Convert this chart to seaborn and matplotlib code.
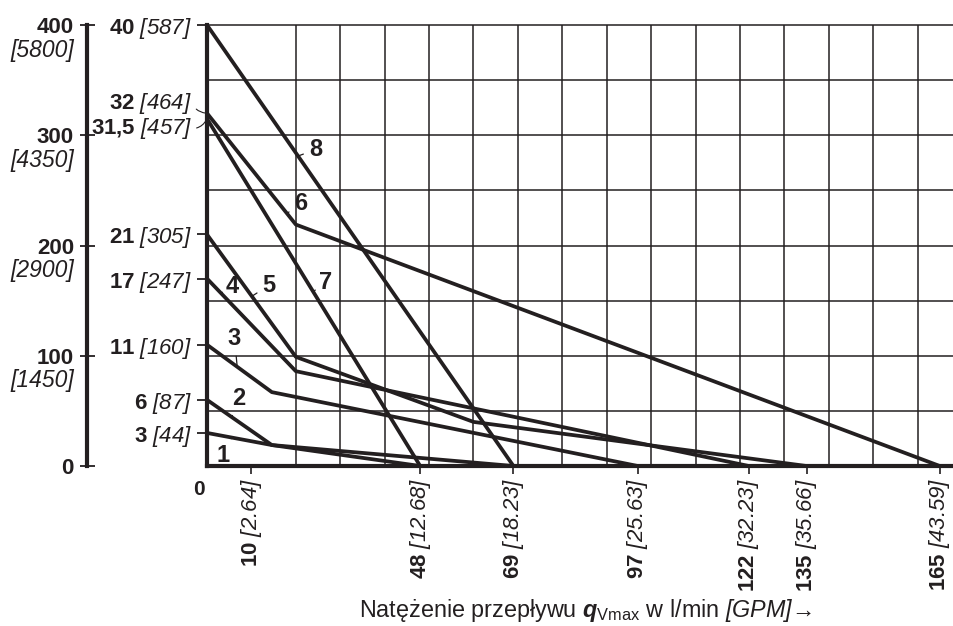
import matplotlib
matplotlib.use("Agg")
import matplotlib.pyplot as plt
import seaborn as sns
import numpy as np
import pandas as pd
from matplotlib.ticker import MultipleLocator
from matplotlib import font_manager

# ---------------- data ----------------
curve_ids = ["1", "2", "3", "4", "5", "6", "7", "8"]
flow_1 = [0, 14.6, 48];      pres_1 = [30, 19, 0]
flow_2 = [0, 14.6, 69];      pres_2 = [60, 19, 0]
flow_3 = [0, 14.6, 97];      pres_3 = [110, 67, 0]
flow_4 = [0, 20, 122];       pres_4 = [170, 86, 0]
flow_5 = [0, 20, 60, 135];   pres_5 = [210, 99, 40, 0]
flow_6 = [0, 20, 165];       pres_6 = [320, 219, 0]
flow_7 = [0, 48];            pres_7 = [315, 0]
flow_8 = [0, 69];            pres_8 = [400, 0]

x_ticks = [10, 48, 69, 97, 122, 135, 165]
x_gpm = ["2.64", "12.68", "18.23", "25.63", "32.23", "35.66", "43.59"]
y_ticks = [30, 60, 110, 170, 210, 400]
y_mpa = ["3", "6", "11", "17", "21", "40"]
y_psi = ["44", "87", "160", "247", "305", "587"]
y_extra_mpa = ["32", "31{,}5"]
y_extra_psi = ["464", "457"]
y_extra_val = [320, 315]
outer_ticks = [0, 100, 200, 300, 400]
outer_psi = ["", "1450", "2900", "4350", "5800"]

# curve label placement: (curve, x on curve, text x, text y)
curve_labels = [("8", 20.5, 24.5, 287), ("6", 18.0, 21.2, 238), ("7", 23.9, 26.6, 166),
                ("4", 3.15, 5.7, 162.6), ("5", 10.1, 14.0, 164), ("3", 6.8, 6.2, 115.5),
                ("2", 5.6, 7.2, 61.6), ("1", 5.6, 3.6, 9.1)]

flows = [flow_1, flow_2, flow_3, flow_4, flow_5, flow_6, flow_7, flow_8]
press = [pres_1, pres_2, pres_3, pres_4, pres_5, pres_6, pres_7, pres_8]
rows = []
for cid, f, p in zip(curve_ids, flows, press):
    for fi, pi in zip(f, p):
        rows.append({"curve": cid, "flow": fi, "pressure": pi})
df = pd.DataFrame(rows)

# ---------------- style ----------------
sns.set_theme(style="white")
plt.rcParams["font.family"] = ["Liberation Sans", "DejaVu Sans"]
plt.rcParams["mathtext.fontset"] = "custom"
plt.rcParams["mathtext.rm"] = "Liberation Sans:italic"
plt.rcParams["mathtext.it"] = "Liberation Sans:italic"
plt.rcParams["mathtext.bf"] = "Liberation Sans:bold"
plt.rcParams["mathtext.sf"] = "Liberation Sans"
plt.rcParams["mathtext.bfit"] = "Liberation Sans:italic:bold"

names = {f.name for f in font_manager.fontManager.ttflist}
narrow = "Liberation Sans Narrow" if "Liberation Sans Narrow" in names else "Liberation Sans"

INK = "#231f20"
W, H = 954, 626


def fx(px):
    return px / W


def fy(py):
    return 1 - py / H


fig = plt.figure(figsize=(W / 100, H / 100), dpi=100)
ax = fig.add_axes([fx(207), fy(466), fx(954) - fx(207), fy(25) - fy(466)])
ax.set_facecolor("white")

sns.lineplot(data=df, x="flow", y="pressure", units="curve", estimator=None, sort=False,
             color=INK, linewidth=2.7, ax=ax, legend=False)

ax.set_xlim(0, 168.2)
ax.set_ylim(0, 400)
ax.set_xlabel("")
ax.set_ylabel("")

ax.xaxis.set_minor_locator(MultipleLocator(10))
ax.yaxis.set_minor_locator(MultipleLocator(50))
ax.grid(False, which="major")
ax.grid(True, which="minor", color=INK, linewidth=1.1)
ax.set_axisbelow(True)

for s in ["left", "bottom"]:
    ax.spines[s].set_linewidth(3.0)
    ax.spines[s].set_color(INK)
ax.spines["top"].set_linewidth(1.1)
ax.spines["top"].set_color(INK)
ax.spines["right"].set_visible(False)

ax.set_xticks(x_ticks, [rf"$\mathbf{{{t}}}$ $\mathit{{[{g}]}}$" for t, g in zip(x_ticks, x_gpm)],
              rotation=90, fontsize=16)
ax.set_yticks(y_ticks, [rf"$\mathbf{{{m}}}$ $\mathit{{[{p}]}}$" for m, p in zip(y_mpa, y_psi)],
              fontsize=16)
ax.tick_params(axis="x", which="major", direction="out", length=5.5, width=1.2,
               color=INK, pad=3, bottom=True, labelcolor=INK)
ax.tick_params(axis="y", which="major", direction="out", length=7.2, width=1.3,
               color=INK, pad=3.4, left=True, labelcolor=INK)
ax.tick_params(which="minor", length=0)

# 32 / 31,5 labels with leaders
for m, p, v, dy in zip(y_extra_mpa, y_extra_psi, y_extra_val, [10, -10]):
    ax.annotate(rf"$\mathbf{{{m}}}$ $\mathit{{[{p}]}}$", xy=(0, v), xycoords=("axes fraction", "data"),
                xytext=(-15, dy), textcoords="offset pixels", ha="right", va="center",
                fontsize=16, color=INK,
                arrowprops=dict(arrowstyle="-", color=INK, lw=0.8, shrinkA=1, shrinkB=1,
                                relpos=(1, 0.5), connectionstyle="arc3,rad=0.3"))

# x origin label
ax.annotate("0", xy=(0, 0), xytext=(-8, -14), textcoords="offset pixels", ha="center",
            va="top", fontsize=15, fontweight="bold", color=INK)

# curve labels
for cid, xc, tx, ty in curve_labels:
    i = curve_ids.index(cid)
    yc = np.interp(xc, flows[i], press[i])
    ax.annotate(cid, xy=(xc, yc), xytext=(tx, ty), ha="center", va="center",
                fontsize=17, fontweight="bold", family=narrow, color=INK,
                arrowprops=dict(arrowstyle="-", color=INK, lw=0.9, shrinkA=2, shrinkB=0))

# outer bar axis
ax2 = fig.add_axes([fx(87), fy(466), 0.0005, fy(25) - fy(466)])
ax2.patch.set_visible(False)
ax2.set_ylim(0, 400)
ax2.set_xlim(0, 1)
for s in ["top", "right", "bottom"]:
    ax2.spines[s].set_visible(False)
ax2.spines["left"].set_linewidth(3.0)
ax2.spines["left"].set_color(INK)
ax2.set_xticks([])
ax2.set_yticks(outer_ticks, [str(t) for t in outer_ticks], fontsize=16, fontweight="bold")
ax2.tick_params(axis="y", direction="inout", length=10.8, width=1.3, color=INK, pad=4,
                left=True, labelcolor=INK)
for t, p in zip(outer_ticks, outer_psi):
    if p:
        ax2.annotate(f"[{p}]", xy=(0, t), xycoords=("axes fraction", "data"),
                     xytext=(-13, -25), textcoords="offset pixels", ha="right", va="center",
                     fontsize=16.5, fontstyle="italic", color=INK)

fig.text(fx(585), fy(617),
         r"Natężenie przepływu $\mathbfit{q}_{\mathsf{Vmax}}$ w l/min $\mathit{[GPM]}$→",
         ha="center", va="baseline", fontsize=16.8, color=INK)

fig.savefig("out.png", dpi=100, facecolor="white")
